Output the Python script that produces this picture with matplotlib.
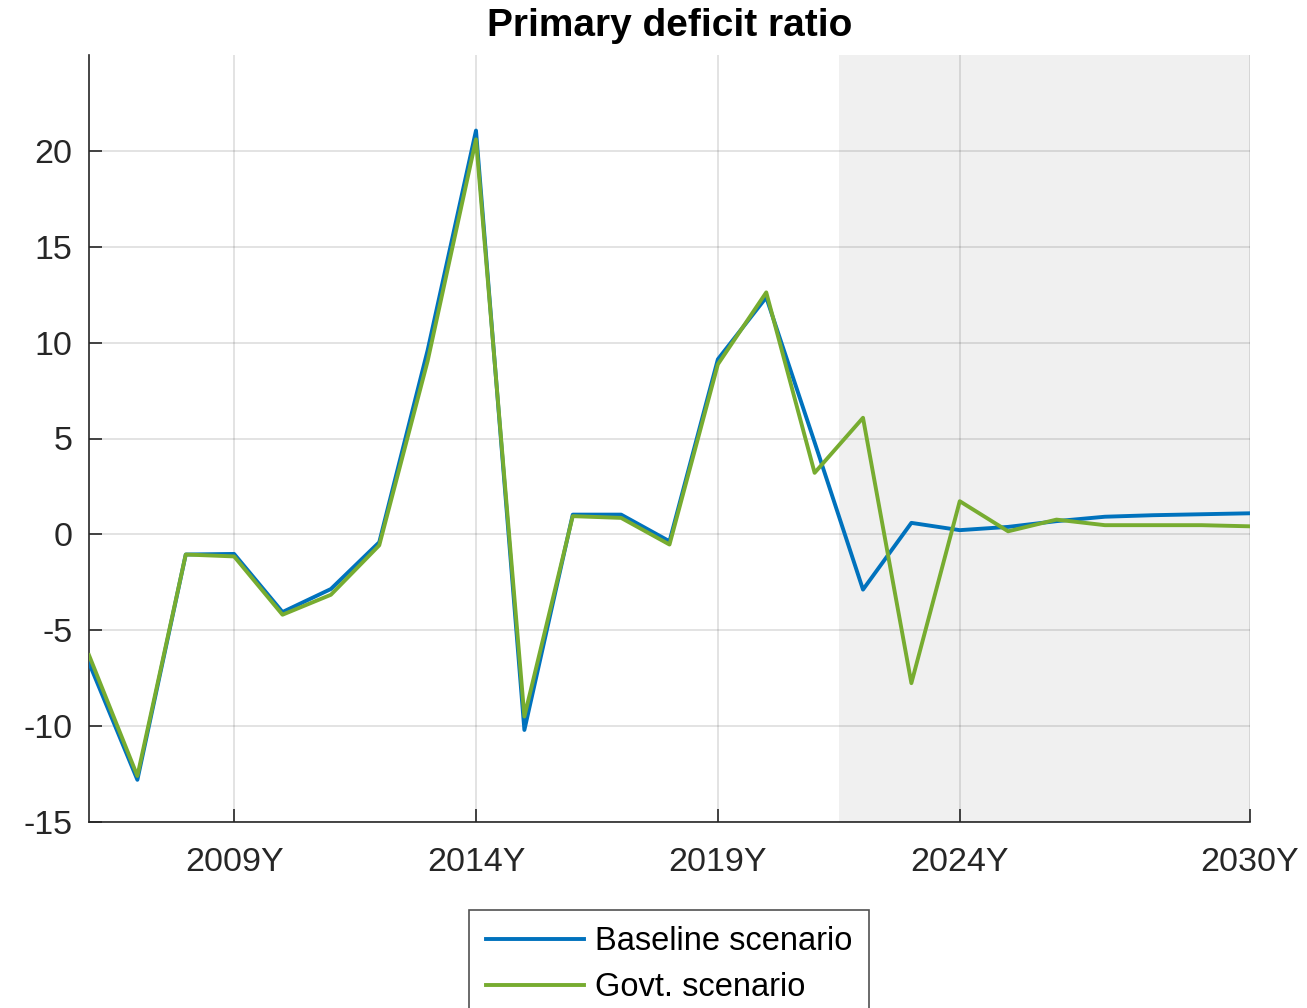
import matplotlib
matplotlib.use("Agg")
import matplotlib.pyplot as plt

plt.rcParams['font.family'] = ['Liberation Sans', 'DejaVu Sans']

years = list(range(2006, 2031))
baseline = [-6.7, -12.8, -1.05, -1.02, -4.05, -2.85, -0.41, 9.6, 21.06, -10.2,
            1.03, 1.03, -0.36, 9.13, 12.36, 4.8, -2.88, 0.6, 0.22, 0.39,
            0.69, 0.92, 1.0, 1.05, 1.1]
govt = [-6.3, -12.6, -1.05, -1.15, -4.19, -3.15, -0.57, 9.04, 20.6, -9.5,
        0.95, 0.86, -0.53, 8.87, 12.62, 3.21, 6.08, -7.76, 1.73, 0.16,
        0.77, 0.48, 0.48, 0.48, 0.42]
xtick_years = [2009, 2014, 2019, 2024, 2030]
xtick_labels = ['2009Y', '2014Y', '2019Y', '2024Y', '2030Y']
yticks = [-15, -10, -5, 0, 5, 10, 15, 20]
forecast_start = 2021.5

fig = plt.figure(figsize=(13.07, 10.08), dpi=100)
ax = fig.add_axes([89/1307, 1-822/1008, (1250-89)/1307, (822-55)/1008])

ax.axvspan(forecast_start, 2030, color='#f0f0f0', zorder=0, lw=0)
ax.plot(years, baseline, color='#0072BD', lw=2.8, label='Baseline scenario', zorder=3)
ax.plot(years, govt, color='#77AC30', lw=2.8, label='Govt. scenario', zorder=4)

ax.set_xlim(2006, 2030)
ax.set_ylim(-15, 25)
ax.set_xticks(xtick_years)
ax.set_xticklabels(xtick_labels)
ax.set_yticks(yticks)
ax.set_yticklabels([str(v) for v in yticks])
ax.set_axisbelow(True)
ax.grid(True, color='#262626', alpha=0.15, lw=1.2)

for s in ['top', 'right']:
    ax.spines[s].set_visible(False)
for s in ['left', 'bottom']:
    ax.spines[s].set_color('#262626')
    ax.spines[s].set_linewidth(1.2)
ax.tick_params(direction='in', length=9.5, width=1.2, color='#262626',
               labelsize=24.5, labelcolor='#262626')
ax.tick_params(axis='y', pad=12)
ax.tick_params(axis='x', pad=18)

ax.set_title('Primary deficit ratio', fontsize=28, fontweight='bold', pad=14)

leg = fig.legend(loc='upper center', bbox_to_anchor=(669/1307, 1-910/1008),
                 fontsize=23.5, frameon=True, fancybox=False, handlelength=3.0,
                 handletextpad=0.35, labelspacing=0.45, borderpad=0.5,
                 borderaxespad=0)
leg.get_frame().set_edgecolor('#262626')
leg.get_frame().set_linewidth(1.2)

fig.savefig('out.png', dpi=100)
